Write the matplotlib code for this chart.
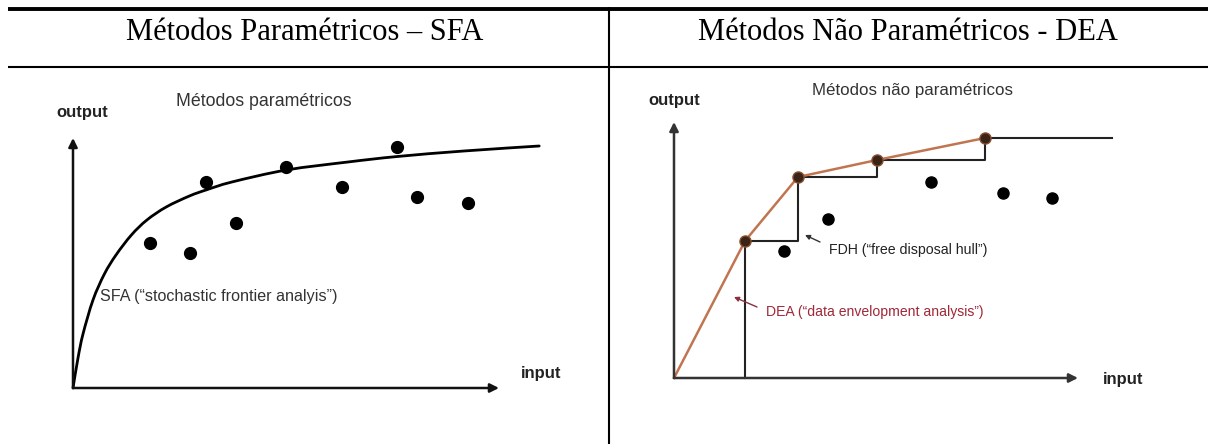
import matplotlib
matplotlib.use('Agg')
import matplotlib.pyplot as plt
from matplotlib.lines import Line2D
from matplotlib.path import Path
from matplotlib.patches import PathPatch

W, H, DPI = 1212, 444, 100

headers = ["Métodos Paramétricos – SFA", "Métodos Não Paramétricos - DEA"]

# ---- left panel: SFA (units: input / output) ----
sfa_pts_x = [7.7, 11.7, 13.3, 16.3, 21.3, 26.9, 32.4, 34.4, 39.5]
sfa_pts_y = [14.5, 13.5, 20.6, 16.5, 22.1, 20.1, 24.1, 19.1, 18.5]
sfa_curve_x = [0, 0.5, 1.0, 2.0, 3.14, 4.3, 5.84, 7.39, 9.32, 11.64, 13.3,
               15.89, 21.34, 27.49, 32.44, 39.09, 46.62]
sfa_curve_y = [0, 3.0, 5.4, 8.8, 11.4, 13.3, 15.3, 16.8, 18.1, 19.2, 19.8,
               20.6, 21.8, 22.6, 23.15, 23.7, 24.2]
sfa_axis_end = (42.6, 25.0)

# ---- right panel: DEA / FDH ----
dea_x = [0, 7.1, 12.4, 20.3, 31.1]
dea_y = [0, 13.7, 20.1, 21.8, 24.0]
ineff_x = [11.0, 15.4, 25.7, 32.9, 37.8]
ineff_y = [12.7, 15.9, 19.6, 18.5, 18.0]
fdh_end_x = 43.8
dea_axis_end = (40.4, 25.6)

# ---------------------------------------------------------------
fig = plt.figure(figsize=(W / DPI, H / DPI), dpi=DPI)
fig.patch.set_facecolor('white')


def fx(px):
    return px / W


def fy(py):
    return 1 - py / H


def hline(y, x0, x1, lw):
    fig.add_artist(Line2D([fx(x0), fx(x1)], [fy(y), fy(y)], color='black', lw=lw,
                          solid_capstyle='butt'))


def vline(x, y0, y1, lw):
    fig.add_artist(Line2D([fx(x), fx(x)], [fy(y0), fy(y1)], color='black', lw=lw,
                          solid_capstyle='butt'))


hline(9, 8, 1208, 2.8)
hline(67, 8, 1208, 1.5)
vline(609, 7.5, 444, 1.5)

serif = ['Liberation Serif', 'DejaVu Serif']
sans = ['Liberation Sans', 'DejaVu Sans']
fig.text(fx(305), fy(32), headers[0], ha='center', va='center', fontsize=22, family=serif)
fig.text(fx(908), fy(32), headers[1], ha='center', va='center', fontsize=22, family=serif)


def make_ax(px0, px1, ox, oy):
    ax = fig.add_axes([fx(px0), 0, (px1 - px0) / W, (H - 68) / H])
    ax.set_xlim((px0 - ox) / 10, (px1 - ox) / 10)
    ax.set_ylim((oy - H) / 10, (oy - 68) / 10)
    ax.axis('off')
    ax.patch.set_alpha(0)
    return ax


def axis_arrows(ax, end, color):
    for tgt in [(end[0], 0), (0, end[1])]:
        ax.annotate('', xy=tgt, xytext=(0, 0),
                    arrowprops=dict(arrowstyle='-|>', lw=1.8, color=color,
                                    mutation_scale=13, shrinkA=0, shrinkB=0))


def smooth_path(xs, ys):
    """Catmull-Rom curve through the given points, drawn as cubic Bezier segments."""
    pts = list(zip(xs, ys))
    verts = [pts[0]]
    codes = [Path.MOVETO]
    n = len(pts)
    for i in range(n - 1):
        p0 = pts[i - 1] if i > 0 else pts[i]
        p1 = pts[i]
        p2 = pts[i + 1]
        p3 = pts[i + 2] if i + 2 < n else pts[i + 1]
        c1 = (p1[0] + (p2[0] - p0[0]) / 6, p1[1] + (p2[1] - p0[1]) / 6)
        c2 = (p2[0] - (p3[0] - p1[0]) / 6, p2[1] - (p3[1] - p1[1]) / 6)
        verts += [c1, c2, p2]
        codes += [Path.CURVE4] * 3
    return Path(verts, codes)


# ---------------- left ----------------
axL = make_ax(8, 609, 73, 388)
axis_arrows(axL, sfa_axis_end, '#111111')
axL.add_patch(PathPatch(smooth_path(sfa_curve_x, sfa_curve_y), fill=False,
                        edgecolor='black', lw=2.0, capstyle='round'))
axL.plot(sfa_pts_x, sfa_pts_y, 'o', color='black', ms=8.5, ls='none')
axL.text(0.9, 27.6, 'output', ha='center', va='center', fontsize=12, weight='bold',
         family=sans, color='#222222')
axL.text(19.1, 28.7, 'Métodos paramétricos', ha='center', va='center', fontsize=12.8,
         family=sans, color='#333333')
axL.text(46.8, 1.5, 'input', ha='center', va='center', fontsize=12, weight='bold',
         family=sans, color='#222222')
axL.text(2.7, 9.1, 'SFA (“stochastic frontier analyis”)', ha='left', va='center',
         fontsize=11.6, family=sans, color='#333333')

# ---------------- right ----------------
axR = make_ax(609, 1212, 674, 378)
axis_arrows(axR, dea_axis_end, '#333333')

# FDH staircase built from efficient points
st_x = [dea_x[1], dea_x[1]]
st_y = [0, dea_y[1]]
for i in range(2, len(dea_x)):
    st_x += [dea_x[i], dea_x[i]]
    st_y += [dea_y[i - 1], dea_y[i]]
st_x.append(fdh_end_x)
st_y.append(dea_y[-1])
axR.plot(st_x, st_y, color='#222222', lw=1.5)

axR.plot(dea_x, dea_y, color='#c07550', lw=1.8)
axR.plot(dea_x[1:], dea_y[1:], 'o', color='#3a2418', mec='#8a5030', ms=8, ls='none')
axR.plot(ineff_x, ineff_y, 'o', color='black', ms=8, ls='none')

axR.text(0, 27.7, 'output', ha='center', va='center', fontsize=12, weight='bold',
         family=sans, color='#222222')
axR.text(23.8, 28.8, 'Métodos não paramétricos', ha='center', va='center', fontsize=12.2,
         family=sans, color='#333333')
axR.text(44.9, -0.1, 'input', ha='center', va='center', fontsize=12, weight='bold',
         family=sans, color='#222222')
axR.text(15.5, 12.8, 'FDH (“free disposal hull”)', ha='left', va='center', fontsize=10.2,
         family=sans, color='#222222')
axR.annotate('', xy=(13.1, 14.3), xytext=(14.6, 13.6),
             arrowprops=dict(arrowstyle='-|>', lw=1.0, color='#333333',
                             mutation_scale=7, shrinkA=0, shrinkB=0))
axR.text(9.2, 6.6, 'DEA (“data envelopment analysis”)', ha='left', va='center',
         fontsize=10.1, family=sans, color='#a02838')
axR.annotate('', xy=(6.0, 8.1), xytext=(8.3, 7.1),
             arrowprops=dict(arrowstyle='-|>', lw=1.0, color='#8a3040',
                             mutation_scale=7, shrinkA=0, shrinkB=0))

fig.savefig('out.png', dpi=DPI, facecolor='white')
